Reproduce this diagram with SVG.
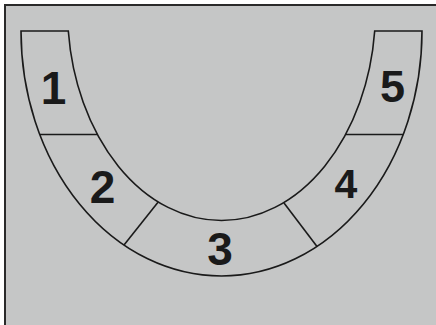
<svg xmlns="http://www.w3.org/2000/svg" width="436" height="325" viewBox="0 0 436 325">
<style>
.ln{fill:none;stroke:#1a1a1a;stroke-width:1.6}
.lb{font-family:"Liberation Sans",Arial,sans-serif;font-weight:bold;fill:#1a1a1a;text-anchor:middle}
</style>
<rect x="0" y="0" width="436" height="325" fill="#ffffff"/>
<rect x="5" y="5" width="436" height="330" fill="#c5c6c6" stroke="#2a2a2a" stroke-width="2"/>
<g id="band">
<path class="ln" d="M21,31 L68.3,31 A154 211 0 0 0 374.7,31 L422,31 A200.5 245 0 0 1 21,31 Z"/>
</g>
<g id="connectors">
<line class="ln" x1="39.8" y1="134.5" x2="97.2" y2="134.5"/>
<line class="ln" x1="124" y1="245.1" x2="158" y2="202.2"/>
<line class="ln" x1="317" y1="246.4" x2="284" y2="202.9"/>
<line class="ln" x1="345.8" y1="134.5" x2="403.2" y2="134.5"/>
</g>
<g id="n1"><text class="lb" x="53.5" y="104" font-size="46">1</text></g>
<g id="n2"><text class="lb" x="102.5" y="203" font-size="46">2</text></g>
<g id="n3"><text class="lb" x="220" y="265" font-size="46">3</text></g>
<g id="n4"><text class="lb" x="346" y="198" font-size="41">4</text></g>
<g id="n5"><text class="lb" x="392.5" y="102" font-size="45">5</text></g>
</svg>
